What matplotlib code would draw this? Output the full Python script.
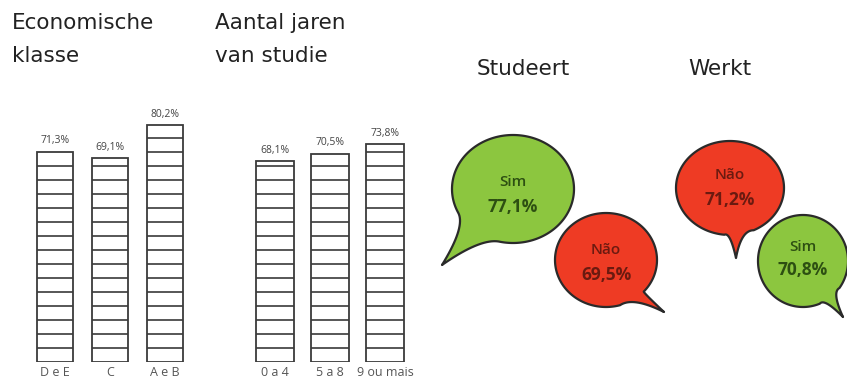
import numpy as np
import matplotlib
matplotlib.use("Agg")
import matplotlib.pyplot as plt
from matplotlib.patches import Polygon

plt.rcParams['font.family'] = ['Open Sans', 'DejaVu Sans']

# ---- data ----
klasse_cats = ["D e E", "C", "A e B"]
klasse_vals = [71.3, 69.1, 80.2]
studie_cats = ["0 a 4", "5 a 8", "9 ou mais"]
studie_vals = [68.1, 70.5, 73.8]
studeert_labels = ["Sim", "Não"]
studeert_vals = [77.1, 69.5]
werkt_labels = ["Não", "Sim"]
werkt_vals = [71.2, 70.8]

GREEN = "#8cc63f"
RED = "#ee3b24"
EDGE = "#2a2a2a"
BAR_EDGE = "#3a3a3a"

W, H = 847, 381
fig = plt.figure(figsize=(W / 100, H / 100), dpi=100)
fig.patch.set_facecolor("white")

# overlay axes in pixel coordinates for headings and speech bubbles
ov = fig.add_axes([0, 0, 1, 1])
ov.set_xlim(0, W)
ov.set_ylim(H, 0)
ov.axis("off")


def fmt(v):
    return f"{v:.1f}%".replace(".", ",")


def striped_bars(rect, cats, vals, width):
    ax = fig.add_axes([rect[0] / W, rect[1] / H, rect[2] / W, rect[3] / H])
    ax.set_xlim(-0.45, 2.45)
    ax.set_ylim(0, rect[3] / 2.95)
    x = np.arange(len(cats))
    ax.bar(x, vals, width=width, facecolor="white", edgecolor=BAR_EDGE,
           linewidth=1.3, zorder=2)
    step = 4.75
    for xi, v in zip(x, vals):
        levels = np.arange(step, v - 1.0, step)
        ax.hlines(levels, xi - width / 2, xi + width / 2, color=BAR_EDGE,
                  linewidth=1.2, zorder=3)
        ax.annotate(fmt(v), (xi, v), xytext=(0, 4), textcoords="offset points",
                    ha="center", va="bottom", fontsize=7.5, color="#444444")
    ax.set_xticks(x)
    ax.set_xticklabels(cats, fontsize=9, color="#555555")
    ax.tick_params(axis="x", length=0, pad=3)
    ax.set_yticks([])
    for s in ax.spines.values():
        s.set_visible(False)
    ax.patch.set_alpha(0)
    return ax


striped_bars((30, 19, 160, 262), klasse_cats, klasse_vals, 0.65)
striped_bars((250, 19, 160, 262), studie_cats, studie_vals, 0.70)

# headings
head_kw = dict(fontsize=15.5, color="#222222", va="center", ha="left",
               family="DejaVu Sans")
ov.text(12, 23, "Economische", **head_kw)
ov.text(12, 56, "klasse", **head_kw)
ov.text(215, 23, "Aantal jaren", **head_kw)
ov.text(215, 56, "van studie", **head_kw)
ov.text(477, 69, "Studeert", **head_kw)
ov.text(688, 69, "Werkt", **head_kw)


def bezier(p0, c, p1, n=20):
    s = np.linspace(0, 1, n)[:, None]
    p0, c, p1 = map(np.asarray, (p0, c, p1))
    return (1 - s) ** 2 * p0 + 2 * (1 - s) * s * c + s ** 2 * p1


def bubble(cx, cy, rx, ry, tail_angle, tail_half, tip, color):
    a0 = np.deg2rad(tail_angle - tail_half)
    a1 = np.deg2rad(tail_angle + tail_half)
    # ellipse outline running from a1 round to a0 (the long way)
    t = np.linspace(a1, a0 + 2 * np.pi, 300)
    ell = np.column_stack([cx + rx * np.cos(t), cy + ry * np.sin(t)])
    b0 = ell[-1]
    b1 = ell[0]
    tip = np.asarray(tip, float)
    centre = np.array([cx, cy], float)
    # concave tail sides
    c0 = (b0 + tip) / 2 + 0.25 * (centre - (b0 + tip) / 2)
    c1 = (b1 + tip) / 2 + 0.25 * (centre - (b1 + tip) / 2)
    side0 = bezier(b0, c0, tip)
    side1 = bezier(tip, c1, b1)
    pts = np.vstack([ell, side0[1:], side1[1:-1]])
    poly = Polygon(pts, closed=True, facecolor=color, edgecolor=EDGE,
                   linewidth=1.6, joinstyle="round", zorder=2)
    ov.add_patch(poly)


def bubble_text(cx, y1, y2, label, val, color):
    ov.text(cx, y1, label, ha="center", va="center", fontsize=11,
            fontweight="semibold", color=color, zorder=3)
    ov.text(cx, y2, fmt(val), ha="center", va="center", fontsize=12.5,
            fontweight="bold", color=color, zorder=3)


# Studeert
bubble(513, 189, 61, 54, 128, 26, (442, 265), GREEN)
bubble_text(513, 182, 207, studeert_labels[0], studeert_vals[0], "#2d4f12")
bubble(606, 260, 51, 47, 58, 16, (664, 312), RED)
bubble_text(606, 250, 275, studeert_labels[1], studeert_vals[1], "#6b1a10")

# Werkt
bubble(730, 188, 54, 47, 80, 16, (736, 258), RED)
bubble_text(730, 175, 200, werkt_labels[0], werkt_vals[0], "#6b1a10")
bubble(803, 261, 45, 46, 52, 16, (843, 317), GREEN)
bubble_text(803, 247, 270, werkt_labels[1], werkt_vals[1], "#2d4f12")

fig.savefig("out.png", dpi=100, facecolor="white")
